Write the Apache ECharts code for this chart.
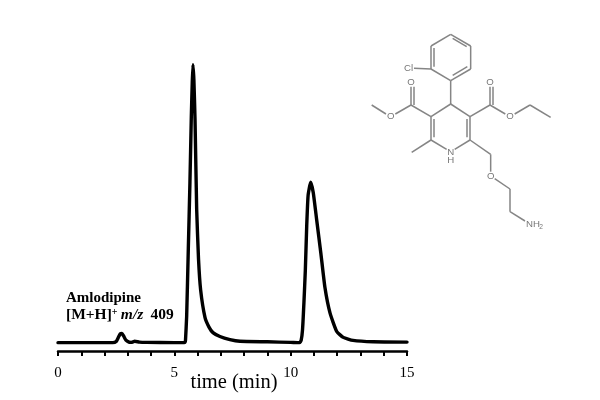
<!DOCTYPE html>
<html><head><meta charset="utf-8">
<style>html,body{margin:0;padding:0;background:#fff}#c{width:600px;height:400px}</style>
<script src="https://cdn.jsdelivr.net/npm/echarts@6/dist/echarts.min.js"></script></head>
<body><div id="c"></div>
<script>
const times = [0,2.35,2.5,2.6,2.68,2.75,2.82,2.92,3.05,3.15,3.3,3.5,3.8,5.0,5.42,5.46,5.48,5.53,5.60,5.67,5.73,5.77,5.80,5.84,5.89,5.96,6.04,6.13,6.32,6.49,6.66,6.96,7.39,7.82,9,10,10.38,10.45,10.51,10.57,10.63,10.69,10.75,10.86,10.97,11.12,11.3,11.47,11.69,11.98,12.26,12.68,13.55,15];
const intensity = [0,0,0.4,2,3.2,3.3,2.4,0.9,0.2,0.1,0.5,0.2,0.1,0,0,0.2,0.9,9.5,33.5,57.4,81.4,93.5,100,94.6,80,48,30,19,9.0,5.6,3.6,2.2,1.1,0.5,0.3,0.1,0,0.8,4.7,14.4,26,42,53,57.7,54,44,32,20,10.7,4,1.9,0.8,0.3,0.2];
const tickLabels = ['0','5','10','15'];
const compound = 'Amlodipine';
const xTitle = 'time (min)';

// Structural formula (decoration), coordinates in the drawing's own frame
const bonds = [
 [302,43,362,78],[362,78,362,147],[362,147,302,182],[302,182,243,147],[243,147,243,78],[243,78,302,43],
 [308,55,350,80],[352,140,308,166],[252,140,252,84],
 [243,147,192,145],[302,182,302,252],
 [302,252,243,290],[243,290,243,360],[252,297,252,352],[243,360,290,388],[314,388,360,360],[360,360,360,290],[351,352,351,297],[360,290,302,252],
 [243,290,183,255],[183,255,183,200],[192,255,192,200],[183,255,136,282],[108,282,65,255],
 [360,290,420,255],[420,255,420,200],[429,255,429,200],[420,255,466,282],[494,282,540,255],[540,255,602,292],
 [243,360,185,397],[360,360,422,403],[422,403,422,455],[434,476,480,507],[480,507,480,575],[480,575,525,603]
];
const atoms = [['Cl',176,145],['O',183,186],['O',122,290],['O',420,186],['O',480,290],['H',302,422],['N',302,396],['O',422,468]];

const chart = echarts.init(document.getElementById('c'), null, {renderer:'canvas'});
const serif = '"Liberation Serif","Times New Roman",serif';
const molecule = [];
bonds.forEach(b=>molecule.push({type:'line',shape:{x1:b[0],y1:b[1],x2:b[2],y2:b[3]},style:{stroke:'#858585',lineWidth:4.5}}));
atoms.forEach(a=>molecule.push({type:'text',x:a[1],y:a[2],style:{text:a[0],fill:'#777',font:'29px "Liberation Sans",Arial,sans-serif',align:'center',verticalAlign:'middle'}}));
molecule.push({type:'text',x:528,y:612,style:{text:'NH',fill:'#777',font:'29px "Liberation Sans",Arial,sans-serif',align:'left',verticalAlign:'middle'}});
molecule.push({type:'text',x:568,y:622,style:{text:'2',fill:'#777',font:'20px "Liberation Sans",Arial,sans-serif',align:'left',verticalAlign:'middle'}});

chart.setOption({
 animation:false,
 backgroundColor:'#fff',
 grid:{left:58,right:193,top:64.6,bottom:49,outerBoundsMode:'none'},
 xAxis:{type:'value',min:0,max:15,interval:1,
  name:xTitle,nameLocation:'middle',nameGap:32,nameMoveOverlap:false,
  nameTextStyle:{fontFamily:serif,fontSize:20.5,color:'#000',verticalAlign:'middle',padding:[0,0,0,3]},
  axisLine:{show:true,onZero:false,lineStyle:{color:'#000',width:2.5}},
  axisTick:{show:true,length:5,lineStyle:{color:'#000',width:2}},
  axisLabel:{margin:15,fontFamily:serif,fontSize:15,color:'#000',showMinLabel:true,showMaxLabel:true,hideOverlap:false,
   formatter:v=>tickLabels.includes(String(v))?String(v):''},
  splitLine:{show:false}},
 yAxis:{type:'value',min:-3,max:100,show:false,splitLine:{show:false}},
 series:[{type:'line',data:times.map((t,i)=>[t,intensity[i]]),showSymbol:false,symbol:'none',smooth:0.15,clip:false,
  lineStyle:{color:'#000',width:3.4,join:'round',cap:'round'}}],
 graphic:[
  {type:'text',left:66,top:291,style:{text:compound,fill:'#000',font:'bold 15px '+serif}},
  {type:'text',left:66,top:307,style:{
    text:'{b|[M+H]}{s|+} {i|m/z} {b| 409}',
    rich:{b:{fontFamily:'Liberation Serif',fontWeight:'bold',fontSize:15.5},
          s:{fontFamily:'Liberation Serif',fontSize:10,fontWeight:'bold',verticalAlign:'top',lineHeight:14},
          i:{fontFamily:'Liberation Serif',fontSize:15.5,fontWeight:'bold',fontStyle:'italic'}}}},
  {type:'group',x:350,y:20,scaleX:1/3,scaleY:1/3,children:molecule}
 ]
});
</script></body></html>
